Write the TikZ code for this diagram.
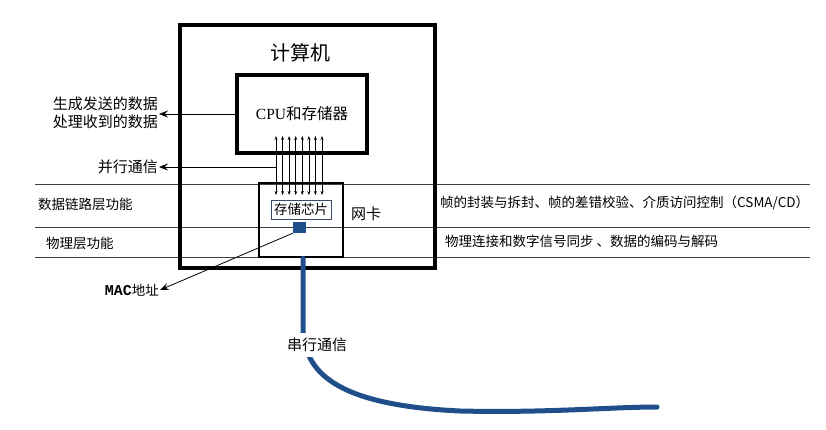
\documentclass[tikz,border=0pt]{standalone}
\usepackage{fontspec}
\newfontfamily\cjk{Noto Sans CJK SC}
\newfontfamily\lserif{Liberation Serif}
\newfontfamily\lmono{Liberation Mono}
\usetikzlibrary{arrows.meta, positioning}
\definecolor{cable}{HTML}{1F4E8A}
\definecolor{chipedge}{HTML}{3A4A6A}
\newcommand{\fs}[1]{\fontsize{#1}{#1}\selectfont}
\tikzset{
  box/.style={draw, line width=3.2pt, inner sep=0pt},
  lbl/.style={font=\cjk\fs{13.5}, inner sep=1pt},
  fl/.style={-{Stealth[length=9pt, width=7pt, inset=3.5pt]}, line width=0.8pt},
  bus/.style={{Stealth[length=4pt, width=3pt]}-{Stealth[length=4pt, width=3pt]}, line width=0.7pt},
  layer/.style={line width=0.8pt, black!75},
  wire/.style={cable, line width=5pt, line cap=round},
}

\begin{document}
\begin{tikzpicture}[x=1pt, y=-1pt]
    \useasboundingbox (0,0) rectangle (826,429);
    % layer lines
    \draw[layer] (35,184) -- (810,184);
    \draw[layer] (35,227) -- (810,227);
    \draw[layer] (35,257) -- (810,257);

    \node[box, minimum width=255pt, minimum height=243pt] (pc) at (307.5,146.5) {};
    \node[font=\cjk\fs{20}] (pctitle) at (300,53) {计算机};
    \node[box, minimum width=130pt, minimum height=78pt] (cpu) at (302,114)
      {\fs{15.5}{\lserif CPU}{\cjk 和存储器}};
    \node[box, line width=2.8pt, minimum width=84pt, minimum height=74pt] (nic) at (301,220) {};
    \node[lbl, draw=chipedge, line width=0.8pt, fill=white, minimum width=60pt,
          minimum height=19pt] (chip) at (301,209.5) {存储芯片};
    \node[fill=cable, minimum width=13pt, minimum height=11pt, inner sep=0pt] (macsq) at (299.5,227.5) {};
    \node[lbl, font=\cjk\fs{15}] (nictxt) at (366,214) {网卡};

    % bus between cpu and chip
    \coordinate (busTop) at (299,136);
    \coordinate (busBot) at (299,195);
    \foreach \i in {0,...,7}
      \draw[bus] ([xshift=-23pt+\i*6.57pt]busTop) -- ([xshift=-23pt+\i*6.57pt]busBot);

    % left labels
    \node[lbl, font=\cjk\fs{15}, align=right, anchor=east] (datatxt) at (159,113)
      {生成发送的数据\\[3pt]处理收到的数据};
    \draw[fl] (cpu.west) -- (datatxt.east |- cpu.west);
    \coordinate (par) at (276,167);
    \node[lbl, font=\cjk\fs{15}, anchor=east] (partxt) at (159,167) {并行通信};
    \draw[fl] (par) -- (partxt);
    \node[lbl, anchor=east] (mactxt) at (160,290) {{\lmono\bfseries\fs{15}MAC}地址};
    \draw[fl] (macsq.south west) -- (mactxt.east);

    % layer texts
    \node[lbl, anchor=west] (dltxt) at (37,204) {数据链路层功能};
    \node[lbl, anchor=west] (phtxt) at (45,243) {物理层功能};
    \node[lbl, anchor=west] (dlfn) at (439,203) {帧的封装与拆封、帧的差错校验、介质访问控制（CSMA/CD）};
    \node[lbl, anchor=west] (phfn) at (444,241) {物理连接和数字信号同步\ 、数据的编码与解码};

    % serial cable
    \coordinate (cableEnd) at (657,407);
    \draw[wire] (nic.south -| 303,0) -- (303,328)
      .. controls (304,372) and (335,405) .. (460,411)
      .. controls (550,413) and (610,407) .. (cableEnd);
    \node[lbl, font=\cjk\fs{15}, fill=white, inner xsep=6pt, inner ysep=5pt] (serial) at (317,345) {串行通信};
\end{tikzpicture}
\end{document}
